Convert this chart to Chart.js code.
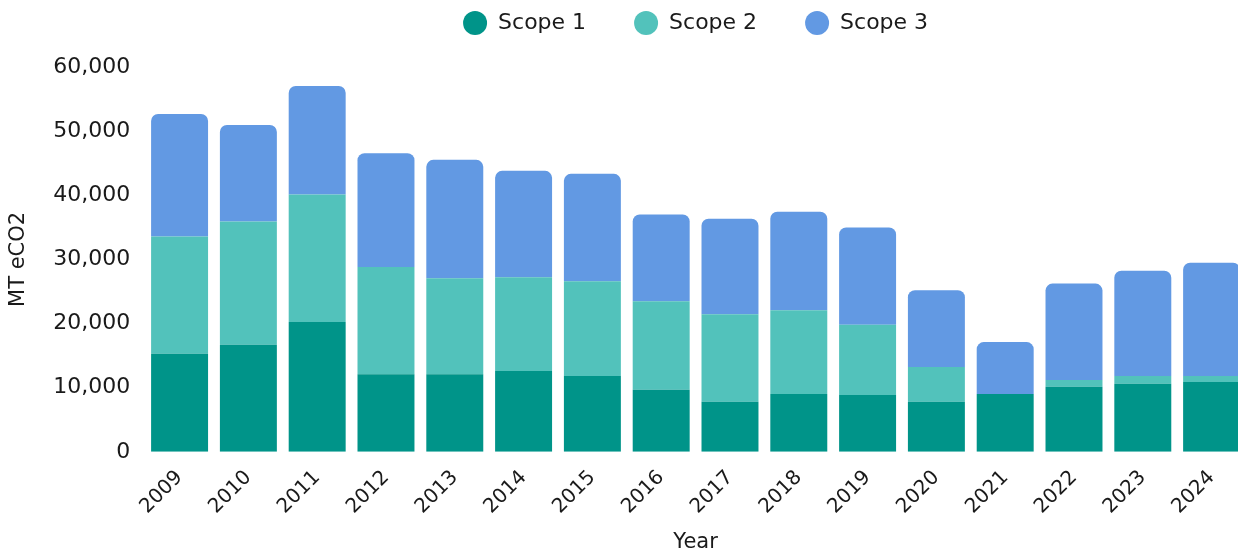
<!DOCTYPE html>
<html>
<head>
<meta charset="utf-8">
<script src="https://cdn.jsdelivr.net/npm/chart.js@4"></script>
<style>
html,body{margin:0;padding:0;background:#fff;overflow:hidden;}
#wrap{width:1246px;height:555px;position:relative;}
</style>
</head>
<body>
<div id="wrap"><canvas id="c"></canvas></div>
<script>
const years = ['2009','2010','2011','2012','2013','2014','2015','2016','2017','2018','2019','2020','2021','2022','2023','2024'];
const scope1 = [15290,16690,20260,12080,12080,12600,11820,9690,7820,9020,8860,7820,9020,10160,10620,10890];
const scope2 = [18300,19240,19860,16740,14980,14620,14770,13790,13640,13060,10940,5400,0,1040,1200,930];
const scope3 = [19080,15030,16910,17730,18460,16590,16750,13530,14880,15350,15190,11970,8090,15030,16430,17680];
const yTicks = [0,10000,20000,30000,40000,50000,60000];

const FONT = "'DejaVu Sans', sans-serif";
const txt = '#1a1a1a';

const legendGap = {
  id:'legendGap',
  beforeInit(chart){
    const lg = chart.legend;
    const orig = lg.fit;
    lg.fit = function(){ orig.call(this); this.height += 23; };
  }
};

new Chart(document.getElementById('c'), {
  type: 'bar',
  data: {
    labels: years,
    datasets: [
      {label:'Scope 1', data:scope1, backgroundColor:'#009489', borderWidth:0, borderRadius:0},
      {label:'Scope 2', data:scope2, backgroundColor:'#52C2BB', borderWidth:0, borderRadius:0},
      {label:'Scope 3', data:scope3, backgroundColor:'#6299E3', borderWidth:0,
        borderRadius:{topLeft:7, topRight:7, bottomLeft:0, bottomRight:0}, borderSkipped:false}
    ]
  },
  plugins:[legendGap],
  options: {
    responsive:true, maintainAspectRatio:false, animation:false,
    layout:{padding:{left:6,right:0,top:-36,bottom:0}},
    datasets:{bar:{barPercentage:0.92, categoryPercentage:0.9}},
    plugins:{
      legend:{
        position:'top', fullSize:false,
        labels:{usePointStyle:true, pointStyle:'circle', boxWidth:17, boxHeight:17, pointStyleWidth:24, padding:48,
          color:txt, font:{family:FONT, size:22}}
      },
      tooltip:{enabled:false}
    },
    scales:{
      x:{
        stacked:true,
        grid:{display:false, drawTicks:false}, border:{display:false},
        ticks:{color:txt, font:{family:FONT, size:20}, maxRotation:45, minRotation:45, padding:14},
        title:{display:true, text:'Year', color:txt, font:{family:FONT, size:21}, padding:{top:-3,bottom:0}}
      },
      y:{
        stacked:true, min:0, max:60000,
        grid:{display:false, drawTicks:false}, border:{display:false},
        afterBuildTicks:(ax)=>{ ax.ticks = yTicks.map(v=>({value:v})); },
        ticks:{color:txt, font:{family:FONT, size:22}, padding:15,
          callback:(v)=>v.toLocaleString('en-US')},
        title:{display:true, text:'MT eCO2', color:txt, font:{family:FONT, size:21}, padding:{top:0,bottom:7}}
      }
    }
  }
});
</script>
</body>
</html>
